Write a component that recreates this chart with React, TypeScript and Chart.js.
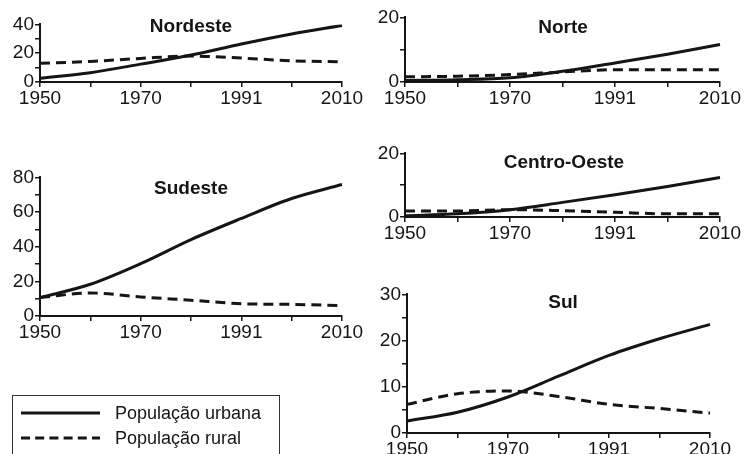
import React, { useEffect, useRef } from "react";
import { Chart, registerables } from "chart.js";

Chart.register(...registerables);

const FONT = '"Liberation Sans", Arial, Helvetica, sans-serif';
const INK = "#151515";

// ---- data (millions of inhabitants, census years) ----
const years = ["1950", "1960", "1970", "1980", "1991", "2000", "2010"];
const shownYears = ["1950", "1970", "1991", "2010"];

const nordesteUrbana = [2.6, 6.5, 12.4, 18.7, 26.4, 33.4, 39.3];
const nordesteRural = [13.0, 14.3, 16.4, 18.0, 16.6, 14.7, 14.0];
const norteUrbana = [0.5, 0.7, 1.3, 3.3, 5.9, 8.6, 11.6];
const norteRural = [1.6, 1.8, 2.3, 3.1, 3.8, 3.8, 3.8];
const sudesteUrbana = [10.6, 18.3, 30.2, 44.1, 56.3, 67.8, 75.9];
const sudesteRural = [10.6, 13.3, 11.0, 9.1, 7.1, 6.7, 6.0];
const centroOesteUrbana = [0.4, 1.0, 2.3, 4.6, 7.0, 9.6, 12.4];
const centroOesteRural = [1.9, 1.9, 2.3, 2.0, 1.5, 1.0, 1.0];
const sulUrbana = [2.6, 4.5, 7.8, 12.3, 16.8, 20.4, 23.5];
const sulRural = [6.2, 8.5, 9.1, 7.9, 6.2, 5.3, 4.3];

const legendUrbana = "População urbana";
const legendRural = "População rural";

// ---- layout (plot-area rectangles in page pixels) ----
type PanelCfg = {
  title: string;
  urb: number[];
  rur: number[];
  max: number;
  step: number;
  labeled: number[];
  l: number;
  r: number;
  t: number;
  b: number;
  tx: number;
  ty: number;
};

const panels: PanelCfg[] = [
  { title: "Nordeste", urb: nordesteUrbana, rur: nordesteRural, max: 40, step: 10, labeled: [0, 20, 40], l: 40, r: 342, t: 24, b: 82, tx: 191, ty: 25 },
  { title: "Norte", urb: norteUrbana, rur: norteRural, max: 20, step: 10, labeled: [0, 20], l: 405, r: 720, t: 17, b: 82, tx: 563, ty: 26 },
  { title: "Sudeste", urb: sudesteUrbana, rur: sudesteRural, max: 80, step: 10, labeled: [0, 20, 40, 60, 80], l: 40, r: 342, t: 177, b: 316, tx: 191, ty: 187 },
  { title: "Centro-Oeste", urb: centroOesteUrbana, rur: centroOesteRural, max: 20, step: 10, labeled: [0, 20], l: 405, r: 720, t: 153, b: 217, tx: 564, ty: 161 },
  { title: "Sul", urb: sulUrbana, rur: sulRural, max: 30, step: 5, labeled: [0, 10, 20, 30], l: 407, r: 710, t: 294, b: 433, tx: 563, ty: 301 },
];

const YW = 44; // y-axis width
const XH = 34; // x-axis height
const PT = 12; // top padding
const PR = 28; // right padding

function Panel({ cfg }: { cfg: PanelCfg }) {
  const ref = useRef<HTMLCanvasElement>(null);
  const left = cfg.l - YW;
  const top = cfg.t - PT;
  const w = cfg.r - cfg.l + YW + PR;
  const h = cfg.b - cfg.t + PT + XH;

  useEffect(() => {
    const titlePlugin = {
      id: "panelTitle",
      afterDraw(chart: any) {
        const ctx = chart.ctx;
        ctx.save();
        ctx.font = `bold 19px ${FONT}`;
        ctx.fillStyle = INK;
        ctx.textAlign = "center";
        ctx.textBaseline = "alphabetic";
        ctx.fillText(cfg.title, cfg.tx - left, cfg.ty - top + 0.358 * 19);
        ctx.restore();
      },
    };
    const chart = new Chart(ref.current!, {
      type: "line",
      data: {
        labels: years,
        datasets: [
          {
            label: legendUrbana,
            data: cfg.urb,
            borderColor: INK,
            borderWidth: 3,
            pointRadius: 0,
            cubicInterpolationMode: "monotone",
            fill: false,
          },
          {
            label: legendRural,
            data: cfg.rur,
            borderColor: INK,
            borderWidth: 3,
            borderDash: [10, 6],
            pointRadius: 0,
            cubicInterpolationMode: "monotone",
            fill: false,
          },
        ],
      },
      options: {
        responsive: false,
        animation: false,
        devicePixelRatio: 1,
        layout: { padding: { top: PT, right: PR, left: 0, bottom: 0 } },
        plugins: { legend: { display: false }, tooltip: { enabled: false }, title: { display: false } },
        scales: {
          x: {
            type: "category",
            offset: false,
            afterFit: (s: any) => {
              s.height = XH;
            },
            ticks: {
              autoSkip: false,
              maxRotation: 0,
              minRotation: 0,
              padding: 0,
              color: INK,
              font: { family: FONT, size: 19 },
              callback: (_v: any, i: number) => (shownYears.includes(years[i]) ? years[i] : ""),
            },
            grid: { drawOnChartArea: false, drawTicks: true, tickLength: 5, color: INK, lineWidth: 1.5 },
            border: { display: true, color: INK, width: 2 },
          },
          y: {
            type: "linear",
            min: 0,
            max: cfg.max,
            afterFit: (s: any) => {
              s.width = YW;
            },
            ticks: {
              stepSize: cfg.step,
              autoSkip: false,
              padding: 1,
              color: INK,
              font: { family: FONT, size: 19 },
              callback: (v: any) => (cfg.labeled.includes(Number(v)) ? String(v) : ""),
            },
            grid: { drawOnChartArea: false, drawTicks: true, tickLength: 5, color: INK, lineWidth: 1.5 },
            border: { display: true, color: INK, width: 2 },
          },
        },
      },
      plugins: [titlePlugin],
    } as any);
    return () => chart.destroy();
  }, []);

  return (
    <canvas
      ref={ref}
      width={w}
      height={h}
      style={{ position: "absolute", left, top, width: w, height: h }}
    />
  );
}

function LegendBox() {
  const textStyle: React.CSSProperties = {
    position: "absolute",
    left: 115,
    font: `18px ${FONT}`,
    lineHeight: "20px",
    color: INK,
    whiteSpace: "nowrap",
  };
  return (
    <>
      <div
        style={{
          position: "absolute",
          left: 12,
          top: 395,
          width: 268,
          height: 64,
          border: "1.5px solid #333",
          boxSizing: "border-box",
        }}
      />
      <svg width={744} height={454} style={{ position: "absolute", left: 0, top: 0 }}>
        <line x1={21} y1={413} x2={100} y2={413} stroke={INK} strokeWidth={3} />
        <line x1={21} y1={438} x2={100} y2={438} stroke={INK} strokeWidth={3} strokeDasharray="9 5.2" />
      </svg>
      <span style={{ ...textStyle, top: 403 }}>{legendUrbana}</span>
      <span style={{ ...textStyle, top: 428 }}>{legendRural}</span>
    </>
  );
}

export default function App() {
  return (
    <div
      style={{
        position: "absolute",
        left: 0,
        top: 0,
        width: 744,
        height: 454,
        overflow: "hidden",
        background: "#fff",
      }}
    >
      {panels.map((p) => (
        <Panel key={p.title} cfg={p} />
      ))}
      <LegendBox />
    </div>
  );
}
